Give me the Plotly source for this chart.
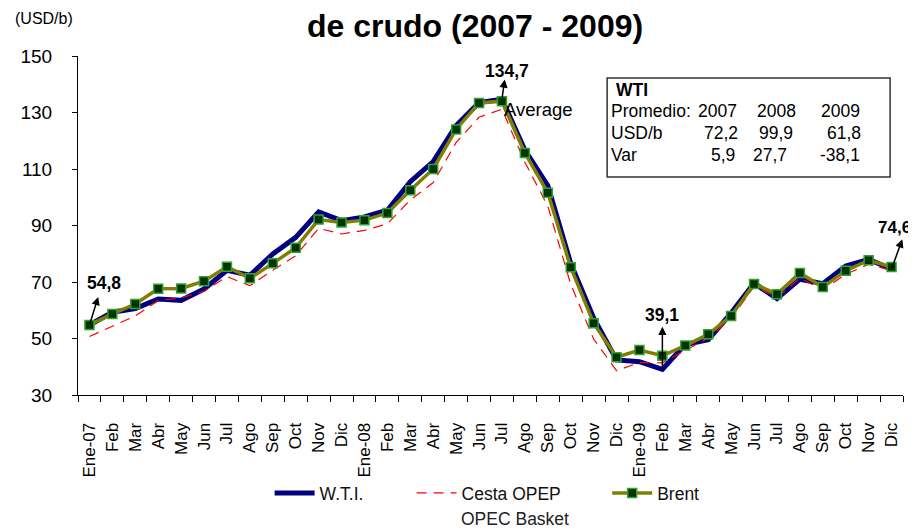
import plotly.graph_objects as go

months = ["Ene-07", "Feb", "Mar", "Abr", "May", "Jun", "Jul", "Ago", "Sep", "Oct", "Nov", "Dic",
          "Ene-08", "Feb", "Mar", "Abr", "May", "Jun", "Jul", "Ago", "Sep", "Oct", "Nov", "Dic",
          "Ene-09", "Feb", "Mar", "Abr", "May", "Jun", "Jul", "Ago", "Sep", "Oct", "Nov", "Dic"]

wti = [54.8, 59.3, 60.6, 64.0, 63.5, 67.5, 74.1, 72.4, 79.9, 85.8, 94.8, 91.7,
       93.0, 95.4, 105.5, 112.6, 125.4, 133.5, 134.7, 116.7, 104.1, 76.6, 57.3, 42.4,
       41.8, 39.1, 47.9, 49.6, 59.0, 69.6, 64.1, 71.0, 69.4, 75.7, 78.0, 74.6]

opep = [50.7, 54.4, 58.0, 63.4, 64.4, 66.7, 71.9, 68.7, 74.2, 79.3, 89.0, 87.0,
        88.3, 90.6, 99.0, 105.2, 119.4, 128.3, 131.2, 112.4, 96.9, 69.2, 49.8, 38.6,
        41.5, 41.4, 45.8, 50.2, 57.0, 68.4, 64.6, 71.4, 67.2, 72.7, 76.3, 74.0]

brent = [54.8, 58.7, 62.2, 67.6, 67.7, 70.3, 75.4, 71.3, 76.6, 82.1, 92.1, 91.1,
         91.9, 94.4, 102.5, 110.0, 124.0, 133.4, 134.0, 115.7, 101.6, 75.2, 55.4, 43.4,
         45.9, 43.9, 47.5, 51.5, 58.0, 69.3, 65.7, 73.2, 68.2, 74.0, 77.7, 75.3]

box_years = ["2007", "2008", "2009"]
box_avg = ["72,2", "99,9", "61,8"]
box_var = ["5,9", "27,7", "-38,1"]

FONT = "Arial, Liberation Sans, sans-serif"

xs = list(range(len(months)))

# The page body adds an 8px margin, so the figure is drawn 8px smaller and
# all screen positions below are given in window pixels.
OFF = 8
SW, SH = 916, 531            # window
L, R, T, B = 72, 903, 56, 395  # plot area in window pixels
W, H = SW - OFF, SH - OFF
def px(p):
    return (p - L) / (R - L)
def py(p):
    return (B - p) / (B - T)

fig = go.Figure()
fig.add_trace(go.Scatter(x=xs, y=wti, mode="lines", name="W.T.I.",
                         line=dict(color="#000080", width=5), legend="legend"))
fig.add_trace(go.Scatter(x=xs, y=opep, mode="lines", name="Cesta OPEP",
                         line=dict(color="#ff0000", width=1.2, dash="10px,7px"), legend="legend2"))
fig.add_trace(go.Scatter(x=xs, y=brent, mode="lines+markers", name="Brent",
                         line=dict(color="#808000", width=3.5),
                         marker=dict(symbol="square", size=9, color="#003300",
                                     line=dict(color="#33a033", width=1.5)),
                         legend="legend3"))

annotations = []
annotations.append(dict(text="<b>de crudo (2007 - 2009)</b>", xref="paper", yref="paper",
                        x=px(471.5), y=py(6), xanchor="center", yanchor="top", showarrow=False,
                        font=dict(size=32, family=FONT, color="black")))
annotations.append(dict(text="(USD/b)", xref="paper", yref="paper", x=px(7), y=py(19),
                        xanchor="left", yanchor="middle", showarrow=False,
                        font=dict(size=16, family=FONT, color="black")))

arrows = [
    (0, wti[0], 0.38, 64.7),
    (18, wti[18], 18.12, 141.7),
    (25, wti[25], 25.0, 54.2),
    (35, wti[35], 35.47, 85.1),
]
for (x0, y0, x1, y1) in arrows:
    annotations.append(dict(x=x1, y=y1, ax=x0, ay=y0, xref="x", yref="y", axref="x", ayref="y",
                            text="", showarrow=True, arrowhead=2, arrowsize=1.1, arrowwidth=1.5,
                            arrowcolor="black"))

labels = [
    ("54,8", 0.62, 69.6),
    ("134,7", 18.24, 144.7),
    ("39,1", 25.0, 58.3),
]
for (t, x, y) in labels:
    annotations.append(dict(text="<b>%s</b>" % t, x=x, y=y, xref="x", yref="y", showarrow=False,
                            font=dict(size=17.5, family=FONT, color="black")))
annotations.append(dict(text="<b>74,6</b>", xref="paper", yref="y", x=px(913), y=89.2,
                        xanchor="right", showarrow=False,
                        font=dict(size=17, family=FONT, color="black")))
annotations.append(dict(text="Average", x=19.6, y=131.2, xref="x", yref="y", showarrow=False,
                        font=dict(size=18.5, family=FONT, color="black")))

annotations.append(dict(text="<b>WTI</b>", xref="paper", yref="paper", x=px(612), y=py(89.5),
                        xanchor="left", yanchor="middle", showarrow=False,
                        font=dict(size=17.5, family=FONT, color="black")))
row_y = [111, 132.5, 154.5]
row_labels = ["Promedio:", "USD/b", "Var"]
for ry, lab in zip(row_y, row_labels):
    annotations.append(dict(text=lab, xref="paper", yref="paper", x=px(607), y=py(ry),
                            xanchor="left", yanchor="middle", showarrow=False,
                            font=dict(size=17.5, family=FONT, color="black")))
col_right = [[738, 797, 862], [739, 794, 863], [736, 788, 862]]
for ri, vals in enumerate([box_years, box_avg, box_var]):
    for ci, v in enumerate(vals):
        annotations.append(dict(text=v, xref="paper", yref="paper", x=px(col_right[ri][ci]),
                                y=py(row_y[ri]), xanchor="right", yanchor="middle", showarrow=False,
                                font=dict(size=17.5, family=FONT, color="black")))

annotations.append(dict(text="OPEC Basket", xref="paper", yref="paper", x=px(512), y=py(519),
                        xanchor="center", yanchor="middle", showarrow=False,
                        font=dict(size=17.5, family=FONT, color="#222222")))

shapes = [dict(type="rect", xref="paper", yref="paper", x0=px(605), x1=px(890),
               y0=py(177), y1=py(78), line=dict(color="#333333", width=1.5))]

legend_common = dict(orientation="h", yanchor="middle", xanchor="left", bgcolor="rgba(0,0,0,0)",
                     font=dict(size=17.5, family=FONT, color="#111111"), itemwidth=40,
                     tracegroupgap=0)
fig.update_layout(
    width=W, height=H,
    margin=dict(l=L - OFF, r=W - (R - OFF), t=T - OFF, b=H - (B - OFF)),
    paper_bgcolor="white", plot_bgcolor="white",
    font=dict(family=FONT, color="black"),
    showlegend=True,
    legend=dict(x=px(265), y=py(493), **legend_common),
    legend2=dict(x=px(408), y=py(493), **legend_common),
    legend3=dict(x=px(605), y=py(493), **legend_common),
    xaxis=dict(range=[-0.5, len(months) - 0.5], tickmode="array", tickvals=xs, ticktext=months,
               tickangle=-90, ticks="", showline=True, linecolor="black", linewidth=1,
               showgrid=False, zeroline=False, ticklabelstandoff=20,
               tickfont=dict(size=17, family=FONT, color="black"),
               minor=dict(tickmode="array", tickvals=[i - 0.5 for i in range(len(months) + 1)],
                          ticks="outside", ticklen=6, tickcolor="black", showgrid=False)),
    yaxis=dict(range=[30, 150], dtick=20, tick0=30, ticks="outside", ticklen=5, tickcolor="black",
               showline=True, linecolor="black", linewidth=1, showgrid=False, zeroline=False,
               ticklabelstandoff=16, tickfont=dict(size=19, family=FONT, color="black")),
    annotations=annotations,
    shapes=shapes,
)

fig.write_html("out.html")
